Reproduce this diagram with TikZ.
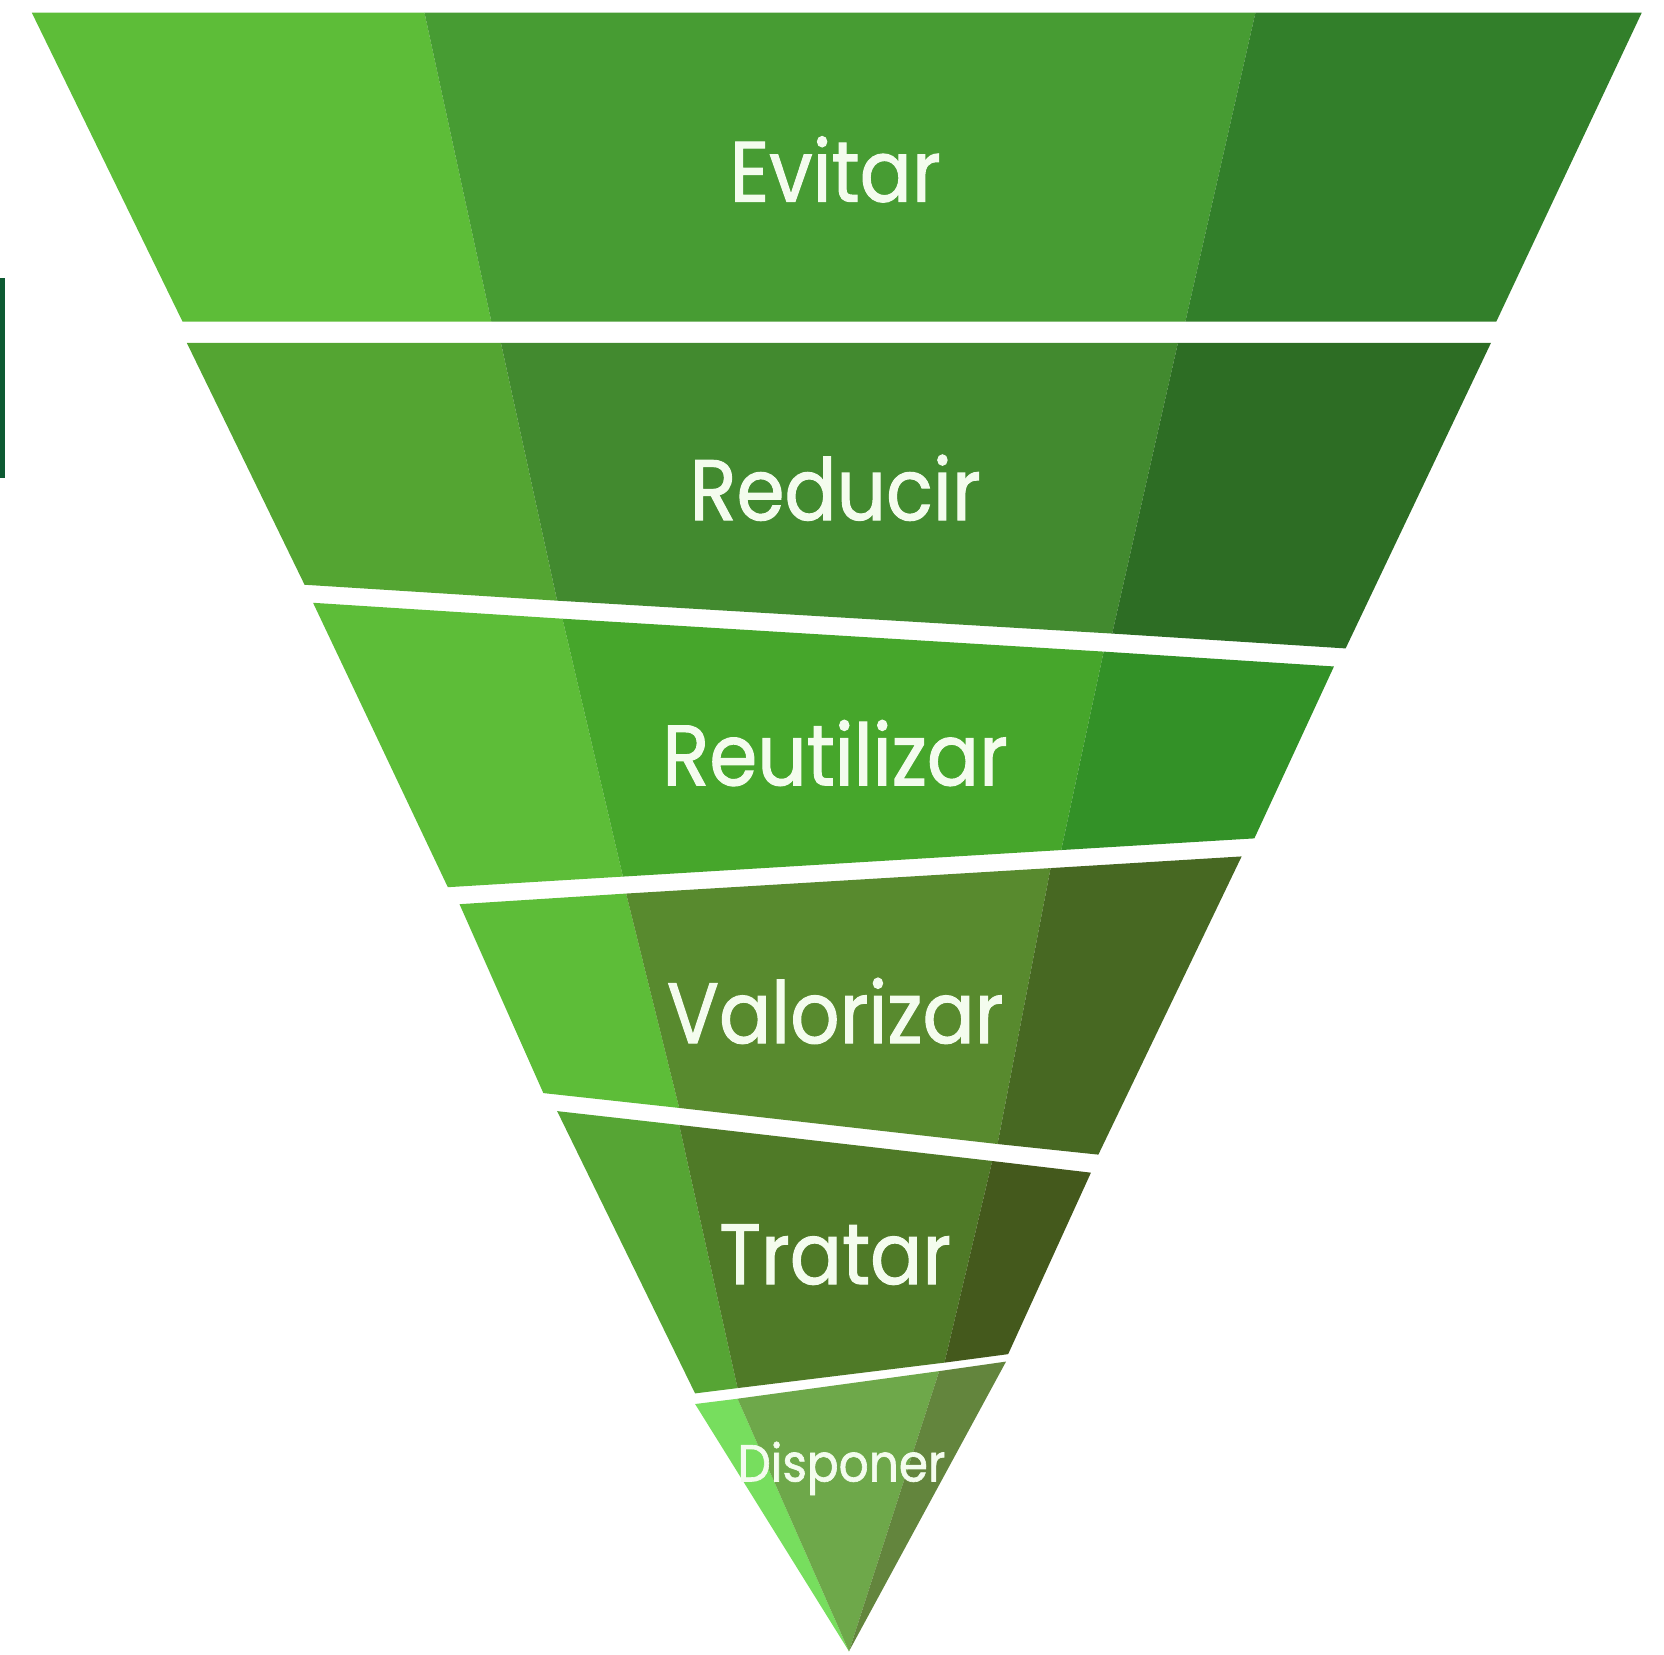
\documentclass[tikz,border=0pt]{standalone}
\usepackage{fontspec}
\setmainfont{Poppins}
\newfontfamily\bandfont[FakeStretch=0.9, FakeBold=1.2]{Poppins}
\definecolor{edgebar}{HTML}{0D5A32}
\definecolor{evitarL}{HTML}{5DBD38}
\definecolor{evitarM}{HTML}{479C33}
\definecolor{evitarR}{HTML}{327F2A}
\definecolor{reducirL}{HTML}{54A532}
\definecolor{reducirM}{HTML}{428A2F}
\definecolor{reducirR}{HTML}{2D6D24}
\definecolor{reutilL}{HTML}{5DBD38}
\definecolor{reutilM}{HTML}{46A62B}
\definecolor{reutilR}{HTML}{339127}
\definecolor{valorL}{HTML}{5DBD38}
\definecolor{valorM}{HTML}{588A2E}
\definecolor{valorR}{HTML}{476822}
\definecolor{tratarL}{HTML}{56A534}
\definecolor{tratarM}{HTML}{4F7A27}
\definecolor{tratarR}{HTML}{44591C}
\definecolor{dispL}{HTML}{77DE5E}
\definecolor{dispM}{HTML}{6EA84A}
\definecolor{dispR}{HTML}{63853D}
\definecolor{labelwhite}{HTML}{F4FCEE}

\tikzset{
    bandlabel/.style={text=labelwhite, anchor=base, inner sep=0pt, font=\bandfont\fontsize{23}{23}\selectfont},
    smalllabel/.style={bandlabel, font=\bandfont\fontsize{14}{14}\selectfont}
}

% one band = light left part, middle part, dark right part
\newcommand{\drawband}[4]{%
    \fill[#2] (#1tl) -- (#1ta) -- (#1ba) -- (#1bl) -- cycle;
    \fill[#3] (#1ta) -- (#1tb) -- (#1bb) -- (#1ba) -- cycle;
    \fill[#4] (#1tb) -- (#1tr) -- (#1br) -- (#1bb) -- cycle;}

\begin{document}
\begin{tikzpicture}[x=0.1mm, y=-0.1mm]
    \useasboundingbox (0,0) rectangle (1568,1559);
    \fill[edgebar] (0,262) rectangle (5,450);

    % Evitar
    \coordinate (atl) at (30,12);   \coordinate (ata) at (400,12);
    \coordinate (atb) at (1183,12); \coordinate (atr) at (1547,12);
    \coordinate (abl) at (172,303); \coordinate (aba) at (463,303);
    \coordinate (abb) at (1117,303);\coordinate (abr) at (1410,303);
    \drawband{a}{evitarL}{evitarM}{evitarR}

    % Reducir
    \coordinate (btl) at (176,323); \coordinate (bta) at (472,323);
    \coordinate (btb) at (1110,323);\coordinate (btr) at (1405,323);
    \coordinate (bbl) at (287,551); \coordinate (bba) at (525,566);
    \coordinate (bbb) at (1048,597);\coordinate (bbr) at (1268,611);
    \drawband{b}{reducirL}{reducirM}{reducirR}

    % Reutilizar
    \coordinate (ctl) at (295,568); \coordinate (cta) at (530,583);
    \coordinate (ctb) at (1040,614);\coordinate (ctr) at (1257,628);
    \coordinate (cbl) at (422,836); \coordinate (cba) at (587,826);
    \coordinate (cbb) at (1000,801);\coordinate (cbr) at (1182,790);
    \drawband{c}{reutilL}{reutilM}{reutilR}

    % Valorizar
    \coordinate (dtl) at (433,852); \coordinate (dta) at (590,842);
    \coordinate (dtb) at (990,818); \coordinate (dtr) at (1170,807);
    \coordinate (dbl) at (512,1030);\coordinate (dba) at (640,1044);
    \coordinate (dbb) at (940,1078);\coordinate (dbr) at (1035,1088);
    \drawband{d}{valorL}{valorM}{valorR}

    % Tratar
    \coordinate (etl) at (525,1047);\coordinate (eta) at (640,1060);
    \coordinate (etb) at (935,1094);\coordinate (etr) at (1028,1105);
    \coordinate (ebl) at (655,1313);\coordinate (eba) at (695,1308);
    \coordinate (ebb) at (890,1284);\coordinate (ebr) at (950,1276);
    \drawband{e}{tratarL}{tratarM}{tratarR}

    % Disponer (tip)
    \coordinate (ftl) at (655,1323);\coordinate (fta) at (695,1318);
    \coordinate (ftb) at (885,1292);\coordinate (ftr) at (948,1283);
    \coordinate (fbl) at (800,1556);\coordinate (fba) at (800,1556);
    \coordinate (fbb) at (800,1556);\coordinate (fbr) at (800,1556);
    \drawband{f}{dispL}{dispM}{dispR}

    \node[bandlabel] (evitar) at (787,190) {Evitar};
    \node[bandlabel] (reducir) at (787,490) {Reducir};
    \node[bandlabel] (reutilizar) at (787,740) {Reutilizar};
    \node[bandlabel] (valorizar) at (787,983) {Valorizar};
    \node[bandlabel] (tratar) at (787,1210) {Tratar};
    \node[smalllabel] (disponer) at (793,1396) {Disponer};
\end{tikzpicture}
\end{document}
